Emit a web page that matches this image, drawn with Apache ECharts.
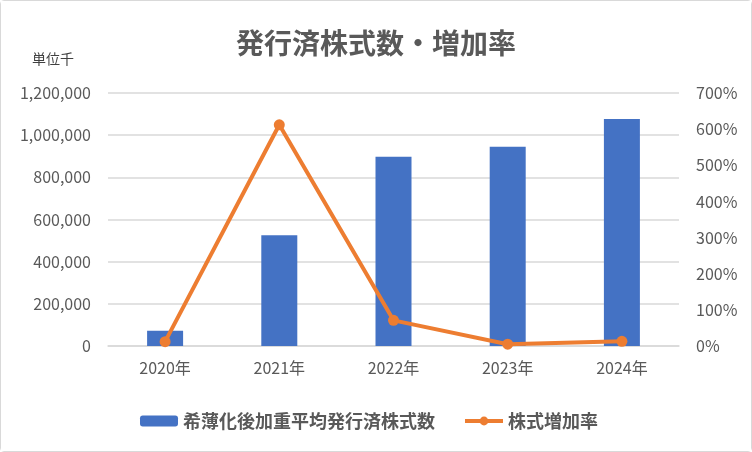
<!DOCTYPE html>
<html>
<head>
<meta charset="utf-8">
<script src="https://cdn.jsdelivr.net/npm/echarts@6/dist/echarts.min.js"></script>
<style>
  html, body { margin: 0; padding: 0; background: #fff; }
  #chart { width: 750px; height: 450px; border: 1px solid #d9d9d9; border-radius: 4px; }
</style>
</head>
<body>
<div id="chart"></div>
<script>
var years = ['2020年', '2021年', '2022年', '2023年', '2024年'];
// 希薄化後加重平均発行済株式数（千株）
var shares = [72000, 525000, 898000, 945000, 1077000];
// 株式増加率（%）
var growth = [12, 612, 71, 5, 13];

var gray = '#595959';
var font = '"Noto Sans CJK JP", "Noto Sans", sans-serif';

var myChart = echarts.init(document.getElementById('chart'));

function comma(v) {
    return String(v).replace(/\B(?=(\d{3})+(?!\d))/g, ',');
}

var option = {
    backgroundColor: '#fff',
    textStyle: { fontFamily: font },
    title: [{
        text: '発行済株式数・増加率',
        left: 'center',
        top: 23,
        textStyle: { color: gray, fontSize: 28, fontWeight: 'bold', fontFamily: font }
    }, {
        text: '単位千',
        left: 26,
        top: 46,
        textStyle: { color: '#404040', fontSize: 14, fontWeight: 'normal', fontFamily: font }
    }],
    legend: {
        bottom: 16,
        left: 134,
        itemGap: 28,
        itemWidth: 38,
        itemHeight: 11,
        textStyle: { color: gray, fontSize: 18, fontWeight: 'bold', fontFamily: font },
        data: [
            { name: '希薄化後加重平均発行済株式数' },
            { name: '株式増加率', lineStyle: { width: 4, color: '#ED7D31' }, itemStyle: { color: '#ED7D31' } }
        ]
    },
    grid: { left: 107, right: 72, top: 92, bottom: 105 },
    xAxis: {
        type: 'category',
        data: years,
        axisLine: { show: true, lineStyle: { color: '#d9d9d9', width: 1.5 } },
        axisTick: { show: false },
        axisLabel: { color: gray, fontSize: 16, margin: 14, fontFamily: font }
    },
    yAxis: [{
        type: 'value',
        min: 0,
        max: 1200000,
        interval: 200000,
        axisLine: { show: false },
        axisTick: { show: false },
        splitLine: { lineStyle: { color: '#d9d9d9', width: 1.5 } },
        axisLabel: { color: gray, fontSize: 16, margin: 17, fontFamily: font, formatter: comma }
    }, {
        type: 'value',
        min: 0,
        max: 700,
        interval: 100,
        axisLine: { show: false },
        axisTick: { show: false },
        splitLine: { show: false },
        axisLabel: { color: gray, fontSize: 16, margin: 17, fontFamily: font, formatter: '{value}%' }
    }],
    series: [{
        name: '希薄化後加重平均発行済株式数',
        type: 'bar',
        data: shares,
        barWidth: 36,
        itemStyle: { color: '#4472C4' }
    }, {
        name: '株式増加率',
        type: 'line',
        yAxisIndex: 1,
        data: growth,
        symbol: 'circle',
        symbolSize: 11,
        lineStyle: { color: '#ED7D31', width: 4 },
        itemStyle: { color: '#ED7D31' }
    }]
};

myChart.setOption(option);
</script>
</body>
</html>
